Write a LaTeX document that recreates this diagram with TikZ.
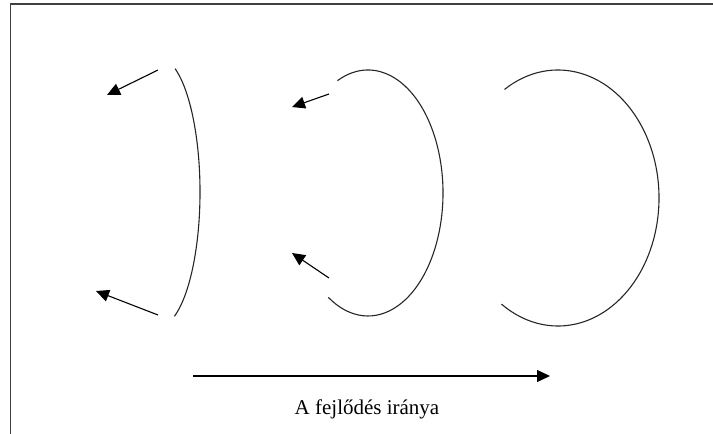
\documentclass[tikz,border=0pt]{standalone}
\usepackage{fontspec}
\setmainfont{Liberation Serif}
\usetikzlibrary{arrows.meta}
\tikzset{
  curve/.style={line width=1.1pt,black!85},
  push/.style={line width=1.1pt,-{Triangle[length=13pt,width=12pt]}},
}
\begin{document}
\begin{tikzpicture}[x=1pt,y=-1pt]
  \useasboundingbox (0,0) rectangle (713,434);
  \draw[black!75,line width=1.4pt] (10.5,434) -- (10.5,4) -- (713,4); % keret
  % 1. szakasz
  \draw[curve] (158,192) ++(-66:42 and 135) arc[start angle=-66,end angle=67,x radius=42,y radius=135];
  \coordinate (a1) at (158,70); \coordinate (a1t) at (107,95);
  \coordinate (a2) at (158,315); \coordinate (a2t) at (96,291);
  \draw[push] (a1) -- (a1t); \draw[push] (a2) -- (a2t);
  % 2. szakasz
  \draw[curve] (368,193) ++(-114:75 and 123) arc[start angle=-114,end angle=122,x radius=75,y radius=123];
  \coordinate (b1) at (329,94); \coordinate (b1t) at (292,107);
  \coordinate (b2) at (329,278); \coordinate (b2t) at (292,253);
  \draw[push] (b1) -- (b1t); \draw[push] (b2) -- (b2t);
  % 3. szakasz
  \draw[curve] (558,198) ++(-122:101 and 128) arc[start angle=-122,end angle=124,x radius=101,y radius=128];
  % irany
  \coordinate (s) at (193,376); \coordinate (e) at (550,376);
  \draw[line width=1.3pt,-{Triangle[length=13pt,width=12pt]}] (s) -- (e);
  \node[font=\fontsize{21}{24}\selectfont] (lbl) at (367,409) {A fejlődés iránya};
\end{tikzpicture}
\end{document}
